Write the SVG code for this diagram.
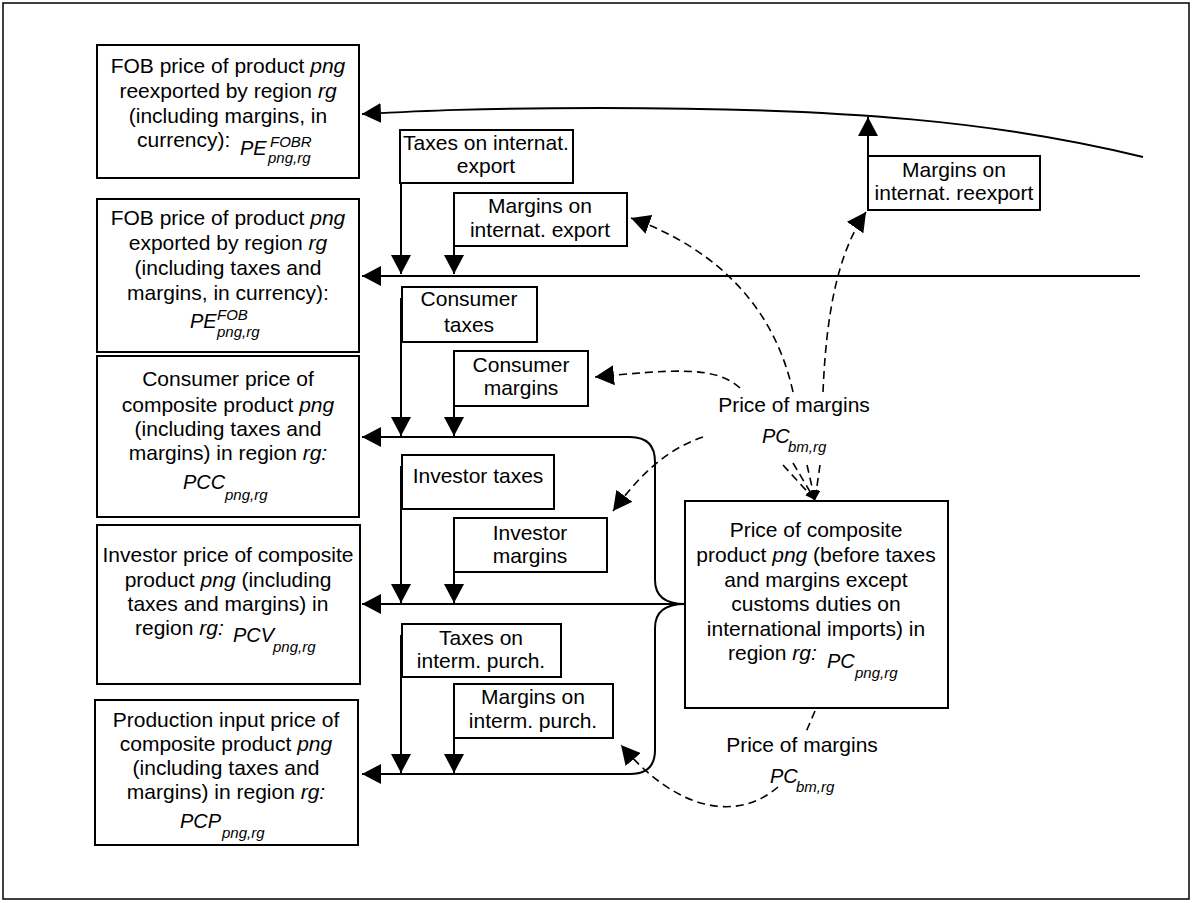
<svg xmlns="http://www.w3.org/2000/svg" width="1193" height="903" viewBox="0 0 1193 903">
<style>
text{font-family:"Liberation Sans",Arial,sans-serif;font-size:21px;fill:#000}
.m{text-anchor:middle}
.i{font-style:italic}
.v{font-style:italic;font-size:20px}
.s{font-style:italic;font-size:15px}
.box{fill:#fff;stroke:#000;stroke-width:2}
.ln{fill:none;stroke:#000;stroke-width:2}
.ds{fill:none;stroke:#000;stroke-width:1.6;stroke-dasharray:8 5}
</style>
<defs>
<marker id="ah" markerUnits="userSpaceOnUse" markerWidth="20" markerHeight="20" refX="19" refY="10" orient="auto"><path d="M0,0 L19,10 L0,20 z" fill="#000"/></marker>
<marker id="ahs" markerUnits="userSpaceOnUse" markerWidth="10" markerHeight="8" refX="10" refY="4" orient="auto"><path d="M0,0 L10,4 L0,8 z" fill="#000"/></marker>
</defs>
<rect x="3" y="3" width="1186" height="896" fill="#fff" stroke="#000" stroke-width="1.5"/>

<g id="connectors">
<path class="ln" d="M1143,157 C1000,122 850,108 600,108 C480,108 420,111 362,114" marker-end="url(#ah)"/>
<path class="ln" d="M868,210 V117" marker-end="url(#ah)"/>
<path class="ln" d="M1140,276 H362" marker-end="url(#ah)"/>
<path class="ln" d="M401,140 V274" marker-end="url(#ah)"/>
<path class="ln" d="M454,246 V274" marker-end="url(#ah)"/>
<path class="ln" d="M685,604 Q655,604 655,580 V462 Q655,437 630,437 H362" marker-end="url(#ah)"/>
<path class="ln" d="M685,604 H362" marker-end="url(#ah)"/>
<path class="ln" d="M685,604 Q655,604 655,628 V750 Q655,774 630,774 H362" marker-end="url(#ah)"/>
<path class="ln" d="M401,298 V436" marker-end="url(#ah)"/>
<path class="ln" d="M454,406 V436" marker-end="url(#ah)"/>
<path class="ln" d="M401,466 V603" marker-end="url(#ah)"/>
<path class="ln" d="M454,572 V603" marker-end="url(#ah)"/>
<path class="ln" d="M401,635 V773" marker-end="url(#ah)"/>
<path class="ln" d="M454,738 V773" marker-end="url(#ah)"/>
<path class="ds" d="M823,392 C826,320 836,255 866,212" marker-end="url(#ah)"/>
<path class="ds" d="M793,392 C775,310 720,250 631,218" marker-end="url(#ah)"/>
<path class="ds" d="M740,388 C715,365 670,370 595,377" marker-end="url(#ah)"/>
<path class="ds" d="M703,437 C665,450 640,475 613,511" marker-end="url(#ah)"/>
<path class="ds" d="M783,465 L815,500" marker-end="url(#ahs)"/>
<path class="ds" d="M793,463 L815,500" marker-end="url(#ahs)"/>
<path class="ds" d="M807,465 L815,500" marker-end="url(#ahs)"/>
<path class="ds" d="M820,465 L815,500" marker-end="url(#ahs)"/>
<path class="ds" d="M815,711 L806,732"/>
<path class="ds" d="M778,787 C740,820 680,815 621,745" marker-end="url(#ah)"/>
</g>

<g id="n-fobr">
<rect class="box" x="97" y="45" width="262" height="133"/>
<text class="m" x="228" y="73">FOB price of product <tspan class="i">png</tspan></text>
<text class="m" x="228" y="98">reexported by region <tspan class="i">rg</tspan></text>
<text class="m" x="228" y="123">(including margins, in</text>
<text x="137" y="147">currency):</text>
<text class="v" x="240" y="155">PE</text>
<text class="s" x="270" y="147">FOBR</text>
<text class="s" x="268" y="163">png,rg</text>
</g>

<g id="n-fob">
<rect class="box" x="97" y="199" width="262" height="153"/>
<text class="m" x="228" y="225">FOB price of product <tspan class="i">png</tspan></text>
<text class="m" x="228" y="250">exported by region <tspan class="i">rg</tspan></text>
<text class="m" x="228" y="275">(including taxes and</text>
<text class="m" x="228" y="300">margins, in currency):</text>
<text class="v" x="190" y="328">PE</text>
<text class="s" x="217" y="320">FOB</text>
<text class="s" x="217" y="337">png,rg</text>
</g>

<g id="n-pcc">
<rect class="box" x="97" y="356" width="262" height="161"/>
<text class="m" x="228" y="386">Consumer price of</text>
<text class="m" x="228" y="412">composite product <tspan class="i">png</tspan></text>
<text class="m" x="228" y="436">(including taxes and</text>
<text class="m" x="228" y="460">margins) in region <tspan class="i">rg:</tspan></text>
<text class="v" x="183" y="489">PCC</text>
<text class="s" x="225" y="500">png,rg</text>
</g>

<g id="n-pcv">
<rect class="box" x="97" y="525" width="263" height="159"/>
<text class="m" x="228" y="562">Investor price of composite</text>
<text class="m" x="228" y="587">product <tspan class="i">png</tspan> (including</text>
<text class="m" x="228" y="611">taxes and margins) in</text>
<text x="135" y="635">region <tspan class="i">rg:</tspan></text>
<text class="v" x="233" y="642">PCV</text>
<text class="s" x="273" y="652">png,rg</text>
</g>

<g id="n-pcp">
<rect class="box" x="95" y="700" width="263" height="145"/>
<text class="m" x="226" y="727">Production input price of</text>
<text class="m" x="226" y="751">composite product <tspan class="i">png</tspan></text>
<text class="m" x="226" y="775">(including taxes and</text>
<text class="m" x="226" y="799">margins) in region <tspan class="i">rg:</tspan></text>
<text class="v" x="180" y="828">PCP</text>
<text class="s" x="222" y="838">png,rg</text>
</g>

<g id="n-tax-export">
<rect class="box" x="400" y="130" width="173" height="53"/>
<text class="m" x="486" y="150">Taxes on internat.</text>
<text class="m" x="486" y="173">export</text>
</g>
<g id="n-mar-export">
<rect class="box" x="454" y="193" width="173" height="53"/>
<text class="m" x="540" y="213">Margins on</text>
<text class="m" x="540" y="237">internat. export</text>
</g>
<g id="n-mar-reexport">
<rect class="box" x="868" y="156" width="172" height="54"/>
<text class="m" x="954" y="177">Margins on</text>
<text class="m" x="954" y="200">internat. reexport</text>
</g>
<g id="n-tax-cons">
<rect class="box" x="402" y="287" width="135" height="55"/>
<text class="m" x="469" y="306">Consumer</text>
<text class="m" x="469" y="332">taxes</text>
</g>
<g id="n-mar-cons">
<rect class="box" x="454" y="351" width="134" height="55"/>
<text class="m" x="521" y="372">Consumer</text>
<text class="m" x="521" y="395">margins</text>
</g>
<g id="n-tax-inv">
<rect class="box" x="402" y="455" width="152" height="54"/>
<text class="m" x="478" y="483">Investor taxes</text>
</g>
<g id="n-mar-inv">
<rect class="box" x="454" y="518" width="153" height="54"/>
<text class="m" x="530" y="540">Investor</text>
<text class="m" x="530" y="563">margins</text>
</g>
<g id="n-tax-int">
<rect class="box" x="402" y="624" width="159" height="53"/>
<text class="m" x="481" y="645">Taxes on</text>
<text class="m" x="481" y="668">interm. purch.</text>
</g>
<g id="n-mar-int">
<rect class="box" x="454" y="684" width="159" height="54"/>
<text class="m" x="533" y="704">Margins on</text>
<text class="m" x="533" y="728">interm. purch.</text>
</g>

<g id="n-pc">
<rect class="box" x="685" y="501" width="263" height="207"/>
<text class="m" x="816" y="537">Price of composite</text>
<text class="m" x="816" y="562">product <tspan class="i">png</tspan> (before taxes</text>
<text class="m" x="816" y="587">and margins except</text>
<text class="m" x="816" y="611">customs duties on</text>
<text class="m" x="816" y="636">international imports) in</text>
<text x="728" y="660">region <tspan class="i">rg:</tspan></text>
<text class="v" x="827" y="668">PC</text>
<text class="s" x="855" y="678">png,rg</text>
</g>

<g id="n-pm-top">
<text class="m" x="794" y="412">Price of margins</text>
<text class="v" x="762" y="443">PC</text>
<text class="s" x="788" y="452">bm,rg</text>
</g>
<g id="n-pm-bottom">
<text class="m" x="802" y="752">Price of margins</text>
<text class="v" x="770" y="783">PC</text>
<text class="s" x="796" y="792">bm,rg</text>
</g>
</svg>
